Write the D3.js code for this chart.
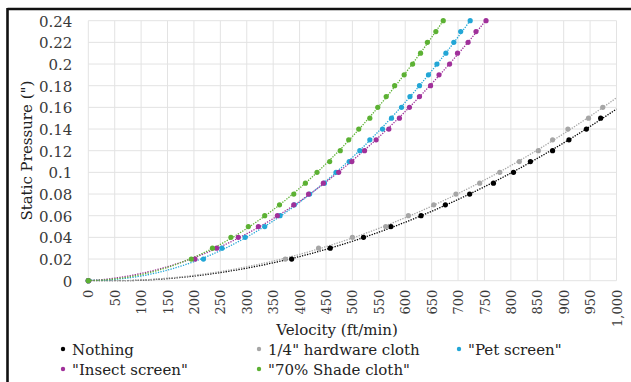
<!DOCTYPE html>
<html><head><meta charset="utf-8">
<script src="https://cdn.jsdelivr.net/npm/d3@7"></script>
<style>
html,body{margin:0;padding:0;background:#fff;}
svg{display:block;}
text{font-family:"DejaVu Serif",Georgia,serif;}
</style></head>
<body><svg id="chart" width="631" height="382"></svg>
<script>
// ---- data ----
const seriesNames = ["Nothing", "1/4\" hardware cloth", "\"Pet screen\"", "\"Insect screen\"", "\"70% Shade cloth\""];
const seriesColors = ["#000000", "#a6a6a6", "#22a6d6", "#a0309a", "#5cb133"];
const pressureNothing = [0, 0.02, 0.03, 0.04, 0.05, 0.06, 0.07, 0.08, 0.09, 0.10, 0.11, 0.12, 0.13, 0.14, 0.15];
const velocityNothing = [0, 385, 458, 521, 573, 630, 676, 722, 767, 805, 837, 879, 910, 943, 970];
const pressureHardware = [0, 0.02, 0.03, 0.04, 0.05, 0.06, 0.07, 0.08, 0.09, 0.10, 0.11, 0.12, 0.13, 0.14, 0.15, 0.16];
const velocityHardware = [0, 373, 436, 500, 563, 606, 654, 696, 741, 779, 816, 852, 879, 908, 947, 974];
const pressureScreens = [0, 0.02, 0.03, 0.04, 0.05, 0.06, 0.07, 0.08, 0.09, 0.10, 0.11, 0.12, 0.13, 0.14, 0.15, 0.16, 0.17, 0.18, 0.19, 0.20, 0.21, 0.22, 0.23, 0.24];
const velocityPet = [0, 218, 253, 297, 334, 363, 390, 419, 447, 469, 494, 514, 533, 557, 574, 593, 609, 627, 644, 660, 677, 692, 705, 723];
const velocityInsect = [0, 202, 243, 284, 322, 358, 389, 417, 445, 474, 499, 523, 545, 569, 589, 608, 627, 648, 664, 684, 699, 719, 734, 753];
const velocityShade = [0, 195, 235, 270, 303, 334, 362, 389, 411, 433, 457, 477, 493, 512, 533, 548, 564, 580, 598, 614, 629, 642, 658, 672];
const xTicks = [0,50,100,150,200,250,300,350,400,450,500,550,600,650,700,750,800,850,900,950,1000];
const yTicks = [0,0.02,0.04,0.06,0.08,0.1,0.12,0.14,0.16,0.18,0.2,0.22,0.24];

const series = [
  {name: seriesNames[0], color: seriesColors[0], x: velocityNothing, y: pressureNothing},
  {name: seriesNames[1], color: seriesColors[1], x: velocityHardware, y: pressureHardware},
  {name: seriesNames[2], color: seriesColors[2], x: velocityPet, y: pressureScreens},
  {name: seriesNames[3], color: seriesColors[3], x: velocityInsect, y: pressureScreens},
  {name: seriesNames[4], color: seriesColors[4], x: velocityShade, y: pressureScreens}
];

// ---- layout ----
const svg = d3.select("#chart");
const L = 88.3, R = 616.5, T = 20.7, B = 280.7;
const x = d3.scaleLinear().domain([0,1000]).range([L,R]);
const y = d3.scaleLinear().domain([0,0.24]).range([B,T]);

// frame
svg.append("line").attr("x1",7.5).attr("x2",631).attr("y1",9).attr("y2",9).attr("stroke","#111").attr("stroke-width",2.6);
svg.append("line").attr("x1",7.5).attr("x2",7.5).attr("y1",8).attr("y2",382).attr("stroke","#111").attr("stroke-width",2.6);

// grid
const g = svg.append("g");
g.selectAll(".vg").data(xTicks).join("line")
  .attr("x1",d=>x(d)).attr("x2",d=>x(d)).attr("y1",T).attr("y2",B)
  .attr("stroke","#e3e3e3").attr("stroke-width",1);
g.selectAll(".hg").data(yTicks).join("line")
  .attr("x1",L).attr("x2",R).attr("y1",d=>y(d)).attr("y2",d=>y(d))
  .attr("stroke","#e3e3e3").attr("stroke-width",1);

// axes (labels only)
const yAxis = svg.append("g").attr("transform",`translate(${L},0)`)
  .call(d3.axisLeft(y).tickValues(yTicks).tickSize(0).tickPadding(16).tickFormat(d=>d3.format("")(+d.toFixed(2))));
yAxis.select(".domain").remove();
yAxis.selectAll("text").attr("font-size",15).attr("fill","#3a3a3a").attr("font-family","DejaVu Serif").attr("dy","0.36em");

const xAxis = svg.append("g").attr("transform",`translate(0,${B})`)
  .call(d3.axisBottom(x).tickValues(xTicks).tickSize(0).tickFormat(d3.format(",")));
xAxis.select(".domain").remove();
xAxis.selectAll("text")
  .attr("font-size",13).attr("fill","#3a3a3a").attr("font-family","DejaVu Serif")
  .attr("transform","rotate(-90)").attr("text-anchor","end")
  .attr("x",-9).attr("y",0).attr("dy","0.35em");

// axis titles
svg.append("text").attr("x",337).attr("y",335).attr("text-anchor","middle")
  .attr("font-size",15).attr("fill","#222").text("Velocity (ft/min)");
svg.append("text").attr("transform",`translate(32,${(T+B)/2}) rotate(-90)`).attr("text-anchor","middle")
  .attr("font-size",15).attr("fill","#222").text("Static Pressure (\")");

// quadratic least-squares trendline
function quadFit(xs, ys){
  let n=xs.length, s=[0,0,0,0,0], t=[0,0,0];
  for(let i=0;i<n;i++){const xv=xs[i], yv=ys[i];
    for(let k=0;k<5;k++) s[k]+=Math.pow(xv,k);
    for(let k=0;k<3;k++) t[k]+=yv*Math.pow(xv,k);}
  const M=[[s[0],s[1],s[2],t[0]],[s[1],s[2],s[3],t[1]],[s[2],s[3],s[4],t[2]]];
  for(let i=0;i<3;i++){let p=i;for(let r=i+1;r<3;r++) if(Math.abs(M[r][i])>Math.abs(M[p][i])) p=r;
    [M[i],M[p]]=[M[p],M[i]];
    for(let r=0;r<3;r++){ if(r===i) continue; const f=M[r][i]/M[i][i]; for(let c=i;c<4;c++) M[r][c]-=f*M[i][c]; }}
  const c0=M[0][3]/M[0][0], c1=M[1][3]/M[1][1], c2=M[2][3]/M[2][2];
  return v=>c0+c1*v+c2*v*v;
}

svg.append("clipPath").attr("id","clip").append("rect").attr("x",L).attr("y",T-1).attr("width",R-L).attr("height",B-T+2);
const plot = svg.append("g").attr("clip-path","url(#clip)");
const line = d3.line().x(d=>x(d[0])).y(d=>y(d[1]));
const samples = d3.range(0,1001,5);

series.forEach(s=>{
  const f = quadFit(s.x, s.y);
  const pts = samples.map(v=>[v, Math.max(0,f(v))]).filter(p=>p[1]<=0.25);
  plot.append("path").datum(pts).attr("d",line).attr("fill","none")
    .attr("stroke",s.color).attr("stroke-width",1.3).attr("stroke-dasharray","1.3,1.3");
});
series.forEach(s=>{
  svg.append("g").selectAll("circle").data(s.x.map((v,i)=>[v,s.y[i]])).join("circle")
    .attr("cx",d=>x(d[0])).attr("cy",d=>y(d[1])).attr("r",2.6).attr("fill",s.color);
});

// legend
const legendPos = [[63,349],[259,349],[459,349],[63,369],[259,369]];
series.forEach((s,i)=>{
  const [lx,ly]=legendPos[i];
  svg.append("circle").attr("cx",lx).attr("cy",ly).attr("r",2.2).attr("fill",s.color);
  svg.append("text").attr("x",lx+9).attr("y",ly+5.5).attr("font-size",15).attr("fill","#222").text(s.name);
});
</script></body></html>
